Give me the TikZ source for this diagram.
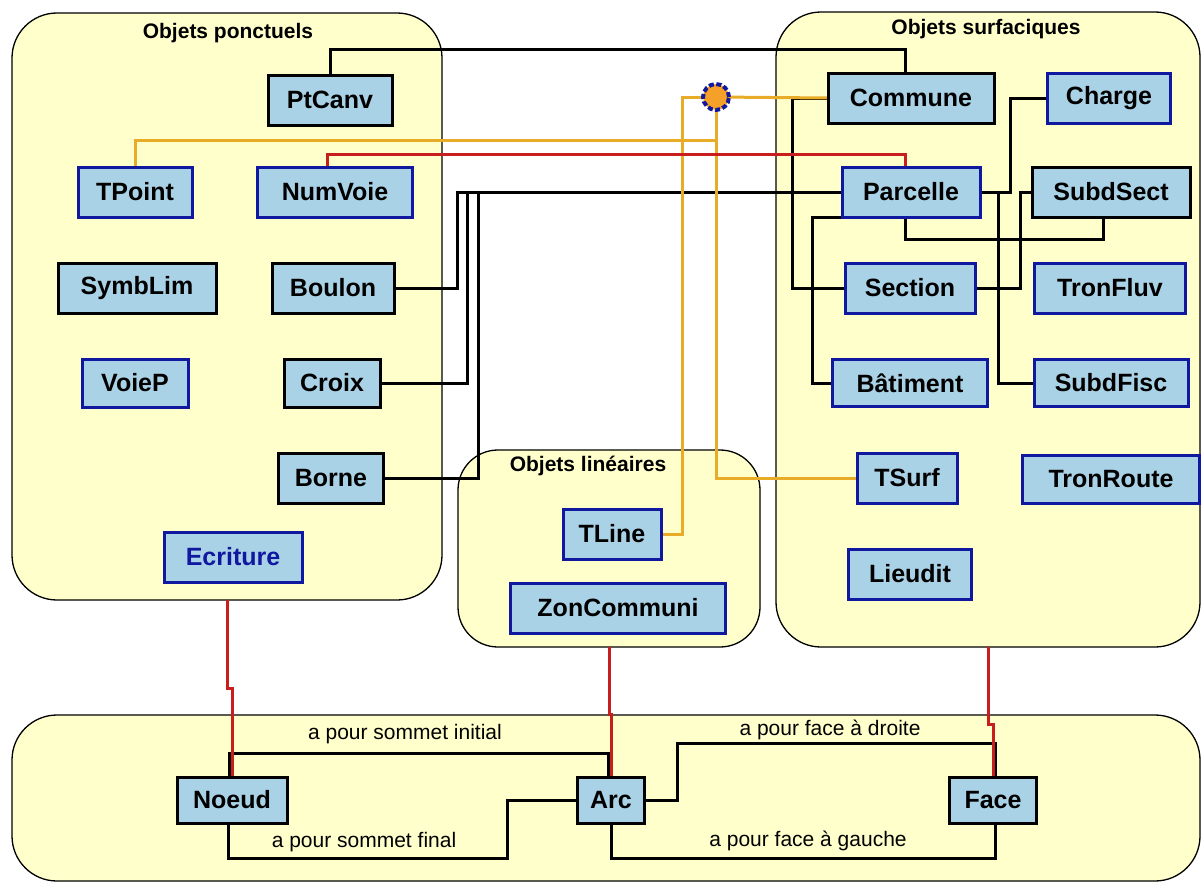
\documentclass[tikz,border=0pt]{standalone}
\usepackage{fontspec}
\setmainfont{Liberation Sans}
\usetikzlibrary{calc}
\definecolor{paleyel}{RGB}{255,255,204}
\definecolor{boxfill}{RGB}{170,210,230}
\definecolor{bluebd}{RGB}{16,24,160}
\definecolor{orangeln}{RGB}{232,172,40}
\definecolor{redln}{RGB}{200,30,30}
\definecolor{hubfill}{RGB}{245,160,40}
\pgfdeclarelayer{back}
\pgfdeclarelayer{mid}
\pgfsetlayers{back,mid,main}
\begin{document}
\begin{tikzpicture}[x=1pt,y=-1pt,
  container/.style={draw=black, line width=1.3pt, fill=paleyel, rounded corners=45pt, inner sep=0pt, outer sep=0pt},
  ctitle/.style={font=\bfseries\fontsize{21}{24}\selectfont, inner sep=0pt},
  bx/.style={draw=black, line width=3pt, fill=boxfill, minimum height=50pt, inner sep=0pt, outer sep=0pt, font=\bfseries\fontsize{25}{30}\selectfont},
  bbx/.style={bx, draw=bluebd},
  blk/.style={draw=black, line width=3pt},
  org/.style={draw=orangeln, line width=3pt},
  redl/.style={draw=redln, line width=3pt},
  elab/.style={font=\fontsize{21}{24}\selectfont, inner sep=0pt},
  hubstyle/.style={circle, draw=bluebd, line width=4pt, dash pattern=on 5pt off 2.5pt, fill=hubfill, minimum size=26pt, inner sep=0pt}
]
\useasboundingbox (0,0) rectangle (1201,883);

\begin{pgfonlayer}{back}
\node[container, minimum width=430pt, minimum height=587pt] (ponct) at (227,306.5) {};
\node[container, minimum width=424pt, minimum height=635pt] (surf) at (988,329.5) {};
\node[container, rounded corners=40pt, minimum width=302pt, minimum height=197pt] (lin) at (609,548.5) {};
\node[container, minimum width=1188pt, minimum height=166pt] (topo) at (606,798) {};
\end{pgfonlayer}

\node[ctitle] (t1) at (228,33) {Objets ponctuels};
\node[ctitle] (t2) at (986,29) {Objets surfaciques};
\node[ctitle] (t3) at (588,466) {Objets linéaires};

% point objects
\node[bx, minimum width=124pt] (PtCanv) at (330,100) {PtCanv};
\node[bbx, minimum width=114pt] (TPoint) at (135,192) {TPoint};
\node[bbx, minimum width=155pt] (NumVoie) at (335,192) {NumVoie};
\node[bx, minimum width=158pt] (SymbLim) at (137,288) {SymbLim};
\node[bx, minimum width=122pt] (Boulon) at (333,288) {Boulon};
\node[bbx, minimum width=106pt, minimum height=48pt] (VoieP) at (135,383) {VoieP};
\node[bx, minimum width=96pt, minimum height=48pt] (Croix) at (332,383) {Croix};
\node[bx, minimum width=105pt] (Borne) at (331,478) {Borne};
\node[bbx, minimum width=138pt, text=bluebd] (Ecriture) at (233,557) {Ecriture};
% surface objects
\node[bx, minimum width=166pt] (Commune) at (911,98) {Commune};
\node[bbx, minimum width=123pt] (Charge) at (1109,98) {Charge};
\node[bbx, minimum width=138pt] (Parcelle) at (911,192) {Parcelle};
\node[bx, minimum width=158pt] (SubdSect) at (1111,192) {SubdSect};
\node[bbx, minimum width=130pt] (Section) at (910,288) {Section};
\node[bbx, minimum width=151pt] (TronFluv) at (1110,288) {TronFluv};
\node[bbx, minimum width=155pt, minimum height=47pt] (Batiment) at (910,383) {Bâtiment};
\node[bbx, minimum width=154pt, minimum height=47pt] (SubdFisc) at (1111,383) {SubdFisc};
\node[bbx, minimum width=100pt] (TSurf) at (907,478) {TSurf};
\node[bbx, minimum width=177pt, minimum height=48pt] (TronRoute) at (1111,479) {TronRoute};
\node[bbx, minimum width=123pt] (Lieudit) at (910,574) {Lieudit};
% linear objects
\node[bbx, minimum width=98pt] (TLine) at (612,534) {TLine};
\node[bbx, minimum width=215pt] (ZonCommuni) at (618,608) {ZonCommuni};
% topology
\node[bx, minimum width=110pt, minimum height=46pt] (Noeud) at (232,800) {Noeud};
\node[bx, minimum width=67pt, minimum height=46pt] (Arc) at (611,800) {Arc};
\node[bx, minimum width=87pt, minimum height=46pt] (Face) at (993,800) {Face};

\node[hubstyle] (hub) at (716,97) {};

\node[elab] (l1) at (405,734) {a pour sommet initial};
\node[elab] (l2) at (364,842) {a pour sommet final};
\node[elab] (l3) at (830,730) {a pour face à droite};
\node[elab] (l4) at (808,841) {a pour face à gauche};

\begin{pgfonlayer}{mid}
% black connectors
\draw[blk] (PtCanv.north) -- ++(0,-25) -| ([xshift=-6pt]Commune.north);
\draw[blk] (Boulon.east) -| (457,192) -- (Parcelle.west);
\draw[blk] (Croix.east) -| (467,192) -- (Parcelle.west);
\draw[blk] (Borne.east) -| (478,192) -- (Parcelle.west);
\draw[blk] (Commune.west) -- (792,98) |- (Section.west);
\draw[blk] (Parcelle.south west) -- ++(-30,0) |- (Batiment.west);
\draw[blk] (Parcelle.east) -- ++(30,0) |- (Charge.west);
\draw[blk] (Parcelle.east) -- ++(18,0) |- (SubdFisc.west);
\draw[blk] ([xshift=-6pt]Parcelle.south) -- ++(0,22) -| ([xshift=-8pt]SubdSect.south);
\draw[blk] (Section.east) -- ++(45,0) |- (SubdSect.west);
\draw[blk] ([xshift=-3pt]Noeud.north) -- ++(0,-24) -| ([xshift=-3pt]Arc.north);
\draw[blk] ([xshift=-4pt]Noeud.south) |- (507,858) |- (Arc.west);
\draw[blk] (Arc.east) -| (677,743) -| ([xshift=2pt]Face.north);
\draw[blk] (Arc.south) -- ++(0,35) -| ([xshift=2pt]Face.south);
% orange connectors
\draw[org] (hub.center) -- (Commune.west);
\draw[org] (hub.center) -- (716,140) -| (TPoint.north);
\draw[org] (hub.center) -- (682,97) |- (TLine.east);
\draw[org] (hub.center) |- (TSurf.west);
% red connectors
\draw[redl] ([xshift=-8pt]NumVoie.north) -- ++(0,-13) -| ([xshift=-6pt]Parcelle.north);
\draw[redl] (ponct.south) -- ++(0,88) -| (Noeud.north);
\draw[redl] (lin.south) -- ++(0,67) -| (Arc.north);
\draw[redl] (surf.south) -- ++(0,77) -| (Face.north);
\end{pgfonlayer}
\end{tikzpicture}
\end{document}
